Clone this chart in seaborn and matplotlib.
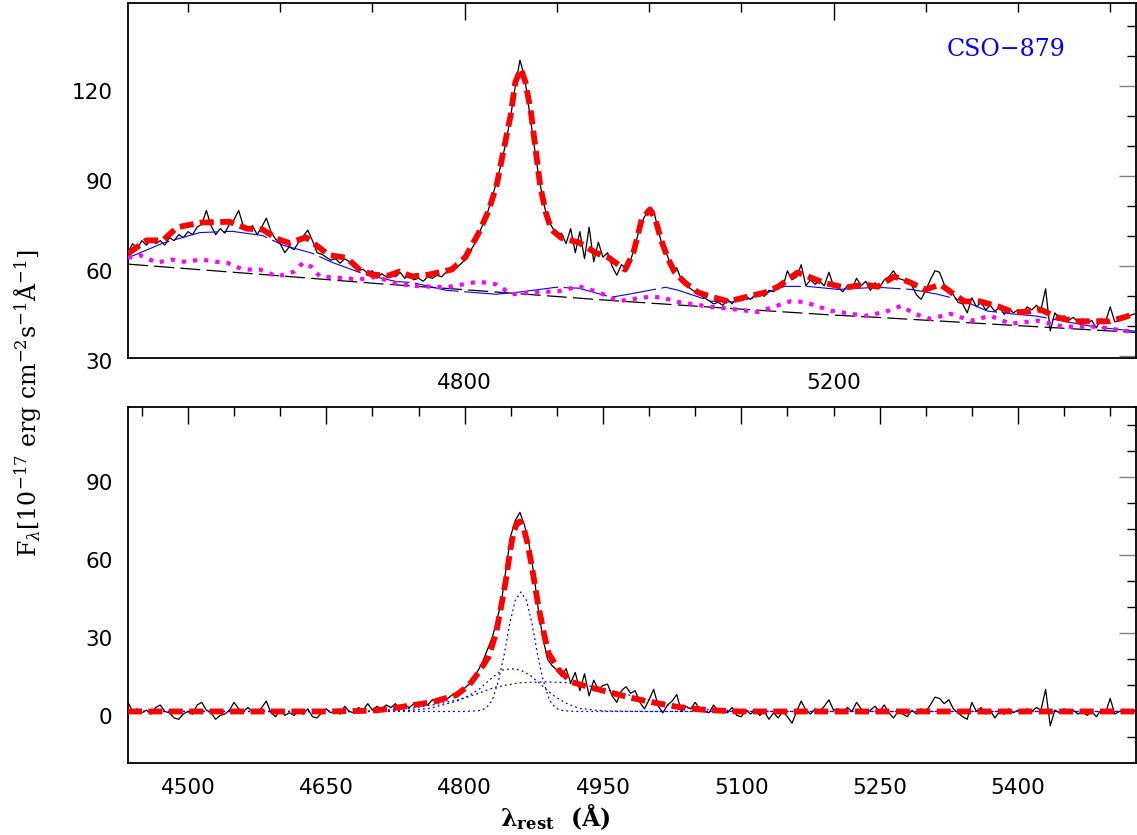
import numpy as np
import seaborn as sns
import matplotlib.pyplot as plt
import matplotlib.transforms as mtransforms
from matplotlib.ticker import MultipleLocator

sns.set_style("white")
plt.rcParams['font.family'] = ['DejaVu Sans']
plt.rcParams['mathtext.fontset'] = 'dejavuserif'
plt.rcParams['text.color'] = 'black'

# observed spectrum, sampled every 5 A from 4435 to 5530
wave = np.arange(4435, 5531, 5)

flux_top = [
    64.5, 67.5, 66.0, 68.5, 67.0, 69.0, 67.5, 68.5, 67.0, 69.5,
    68.5, 70.5, 69.5, 71.5, 70.5, 73.0, 74.0, 78.5, 73.5, 70.5,
    72.5, 71.0, 74.0, 75.5, 78.5, 73.5, 72.0, 73.5, 70.5, 73.0,
    76.0, 71.5, 69.0, 67.5, 64.5, 66.5, 65.5, 68.0, 70.0, 72.0,
    68.5, 64.5, 64.0, 63.0, 62.0, 62.5, 61.0, 62.5, 61.5, 60.0,
    58.5, 59.0, 57.5, 58.5, 56.0, 57.5, 56.5, 58.0, 56.5, 58.0,
    56.0, 57.0, 55.5, 56.0, 55.0, 56.5, 56.0, 57.0, 56.5, 58.0,
    58.5, 59.5, 60.5, 62.0, 64.5, 67.0, 70.5, 74.0, 78.0, 83.0,
    88.5, 94.5, 101.5, 110.0, 120.0, 128.5, 123.0, 112.0, 101.0, 90.5,
    82.0, 75.5, 73.0, 70.0, 71.0, 67.5, 72.5, 64.5, 71.5, 62.5,
    73.0, 61.5, 68.0, 63.0, 64.5, 60.0, 57.0, 60.5, 59.5, 62.0,
    67.0, 73.0, 76.5, 78.0, 78.5, 72.0, 66.0, 63.5, 58.5, 59.5,
    55.5, 54.0, 52.5, 51.5, 50.5, 49.5, 48.5, 47.5, 48.0, 47.0,
    49.0, 47.5, 49.5, 48.5, 50.0, 49.0, 50.5, 51.0, 50.0, 52.0,
    51.5, 54.0, 53.0, 58.5, 55.5, 56.5, 60.5, 53.5, 55.5, 54.0,
    55.0, 53.5, 58.0, 53.5, 53.0, 51.5, 53.5, 52.5, 56.0, 53.5,
    55.0, 52.0, 54.5, 53.0, 55.5, 56.5, 58.5, 56.0, 55.5, 55.0,
    53.5, 50.5, 49.0, 52.0, 55.5, 58.5, 58.0, 54.0, 52.0, 50.5,
    48.0, 47.5, 44.5, 49.5, 46.5, 48.0, 45.5, 47.0, 45.0, 46.5,
    44.0, 46.0, 44.5, 45.5, 44.5, 46.5, 45.5, 47.0, 45.5, 52.5,
    38.5, 44.5, 42.5, 43.5, 42.0, 43.0, 41.5, 42.5, 41.0, 42.0,
    39.5, 42.5, 41.5, 46.5, 41.5, 42.0, 42.5, 43.5, 44.0, 44.5,
]

flux_res = [
    3.5, 0.0, 1.0, -0.5, 0.5, -1.0, 1.5, 2.5, 0.0, -0.5,
    -2.5, -3.0, -1.0, 0.0, -1.0, 2.5, 3.5, 0.5, -0.5, -3.0,
    -1.5, -1.0, 0.5, 3.5, 1.0, 0.0, 1.5, 0.0, -0.5, 1.5,
    4.0, -0.5, -2.0, 0.5, -1.5, -0.5, -1.5, 0.0, -1.0, 1.0,
    -2.0, -2.5, -0.5, 1.0, -0.5, 0.5, -1.0, 2.0, 0.0, -0.5,
    1.5, 0.5, 3.0, 0.5, 2.0, 1.0, 2.5, 1.5, 3.0, 1.0,
    2.5, 1.5, 3.0, 2.0, 3.5, 2.5, 4.5, 3.5, 5.0, 4.5,
    6.0, 7.0, 7.5, 9.0, 10.5, 13.0, 16.0, 19.5, 24.0, 28.5,
    35.0, 42.5, 55.0, 67.5, 73.5, 76.5, 71.5, 64.0, 53.0, 39.0,
    28.0, 20.0, 17.5, 16.0, 13.5, 16.5, 11.0, 15.0, 8.0, 14.5,
    6.0, 12.0, 8.5, 10.0, 10.5, 6.0, 3.5, 8.0, 9.5, 7.0,
    8.0, 3.5, 1.0, 4.5, 8.5, 2.0, -0.5, 2.5, 4.0, 6.5,
    0.0, 2.0, 1.0, 3.5, 1.0, 0.0, -0.5, 2.5, 0.0, 1.0,
    -0.5, 1.5, -1.5, -2.0, 0.5, -1.0, 0.5, -1.5, 0.0, -3.0,
    -0.5, -2.5, 0.0, -2.0, -4.5, 0.0, 4.0, 0.5, -1.0, 1.0,
    0.0, 2.0, 4.5, 0.5, 1.0, -0.5, 1.5, 0.0, 3.5, 1.0,
    -0.5, 0.5, 2.0, 0.0, 2.5, -0.5, -2.5, 0.0, -1.0, -2.0,
    0.5, -1.0, 1.0, 0.0, 2.5, 5.5, 5.0, 3.0, 4.5, 1.0,
    -0.5, -2.0, -3.0, 3.5, 0.0, 1.5, -1.0, 0.5, -2.5, 0.0,
    -1.0, 1.0, -0.5, 0.5, -0.5, 1.0, 0.0, 1.5, 0.5, 8.5,
    -5.5, 0.5, -0.5, 1.0, -0.5, 0.5, -1.0, 0.0, -1.5, 0.0,
    -2.0, 0.5, -0.5, 5.0, -1.0, 0.0, 0.5, -0.5, 0.5, 0.0,
]

# total model, top panel
fit_top_wl = [4435, 4455, 4473, 4488, 4513, 4545, 4564, 4581, 4596, 4610,
              4628, 4639, 4653, 4672, 4686, 4700, 4718, 4729, 4743, 4761,
              4786, 4801, 4815, 4826, 4835, 4842, 4850, 4855, 4861, 4866,
              4872, 4877, 4882, 4888, 4894, 4905, 4924, 4942, 4956, 4974,
              4983, 4992, 5001, 5007, 5013, 5021, 5028, 5039, 5053, 5067,
              5086, 5107, 5126, 5140, 5161, 5172, 5190, 5212, 5234, 5248,
              5266, 5284, 5299, 5316, 5331, 5342, 5359, 5378, 5396, 5413,
              5424, 5443, 5461, 5478, 5500, 5518, 5528]
fit_top = [64.2, 68.6, 68.6, 72.9, 74.5, 74.8, 72.5, 72.2, 69.2, 67.7,
           69.6, 67.0, 63.7, 62.8, 58.9, 57.2, 56.9, 58.2, 56.6, 57.2,
           58.9, 63.1, 70.9, 78.4, 87.3, 98.2, 110.3, 121.2, 125.6, 121.2,
           111.0, 98.8, 86.6, 77.9, 72.2, 69.4, 67.9, 64.5, 62.9, 58.9,
           64.5, 75.5, 78.9, 75.5, 68.8, 62.2, 57.9, 54.5, 51.3, 49.9,
           48.3, 49.9, 51.3, 53.2, 57.9, 56.6, 54.5, 52.9, 53.9, 53.2,
           56.6, 54.5, 52.2, 53.9, 50.6, 48.3, 48.3, 46.7, 44.6, 45.0,
           45.6, 43.0, 41.7, 41.7, 41.7, 43.3, 44.6]

# continuum + broad Fe / host (thin blue)
cont_fe_wl = [4435, 4473, 4513, 4548, 4581, 4603, 4634, 4657, 4693, 4726,
              4743, 4780, 4834, 4859, 4899, 4924, 4959, 4978, 5018, 5032,
              5067, 5089, 5118, 5143, 5172, 5205, 5248, 5284, 5313, 5342,
              5367, 5396, 5421, 5450, 5486, 5528]
cont_fe = [62.8, 67.7, 71.2, 71.6, 70.2, 67.0, 64.4, 61.2, 57.2, 54.9,
           54.6, 52.0, 50.7, 51.4, 53.0, 52.7, 49.7, 50.7, 53.0, 52.0,
           48.4, 48.1, 49.7, 53.3, 53.3, 52.3, 53.0, 52.3, 50.7, 48.4,
           45.1, 44.1, 43.4, 41.7, 39.7, 38.4]

# Fe II template on top of the power law (magenta dots)
feii_wl = [4435, 4448, 4466, 4483, 4495, 4516, 4530, 4542, 4560, 4578,
           4597, 4615, 4625, 4634, 4643, 4661, 4686, 4704, 4726, 4743,
           4780, 4815, 4834, 4851, 4880, 4902, 4924, 4945, 4967, 4996,
           5013, 5032, 5067, 5089, 5118, 5154, 5169, 5197, 5234, 5256,
           5273, 5288, 5305, 5327, 5349, 5370, 5392, 5421, 5450, 5486,
           5528]
feii = [62.8, 63.7, 61.2, 62.2, 61.5, 62.2, 61.5, 61.2, 58.9, 58.9,
        56.6, 58.2, 61.2, 59.8, 56.6, 56.2, 55.6, 56.5, 54.3, 53.5,
        53.0, 54.9, 54.0, 50.7, 51.4, 51.7, 53.3, 51.4, 48.4, 49.7,
        49.7, 48.1, 46.5, 45.8, 44.8, 48.4, 48.1, 45.2, 43.5, 44.8,
        46.8, 44.2, 42.5, 44.2, 41.9, 43.5, 40.9, 41.9, 39.9, 39.9,
        38.0]

# power-law continuum
pl_wl = [4435, 4600, 4707, 4800, 4959, 5067, 5198, 5248, 5392, 5528]
pl = [60.7, 56.8, 54.2, 52.2, 48.6, 46.4, 43.8, 43.0, 40.4, 38.0]

# total model, bottom panel (H beta after subtraction)
fit_res_wl = [4435, 4650, 4700, 4718, 4765, 4791, 4805, 4815, 4826, 4834,
              4839, 4845, 4849, 4853, 4857, 4860, 4864, 4868, 4872, 4876,
              4880, 4886, 4891, 4902, 4916, 4938, 4959, 4981, 5007, 5032,
              5061, 5097, 5528]
fit_res = [0.0, 0.0, 0.3, 1.0, 3.6, 6.3, 10.2, 14.9, 21.0, 30.0,
           39.2, 51.0, 61.0, 69.0, 72.5, 73.0, 70.5, 65.0, 57.5, 49.0,
           40.5, 30.0, 22.4, 16.0, 11.3, 9.1, 7.2, 5.2, 3.3, 1.7,
           0.6, 0.0, 0.0]

# individual H beta components (blue dots)
hb_narrow_wl = [4435, 4800, 4815, 4823, 4830, 4837, 4843, 4849, 4855, 4861,
                4867, 4873, 4879, 4885, 4892, 4899, 4907, 4920, 5528]
hb_narrow = [0, 0, 0.3, 1.2, 4.3, 12.2, 22.0, 34.0, 42.7, 45.9,
             42.7, 34.0, 22.0, 12.2, 4.3, 1.2, 0.3, 0, 0]
hb_mid_wl = [4435, 4700, 4740, 4762, 4791, 4805, 4816, 4825, 4834, 4842,
             4851, 4860, 4870, 4879, 4888, 4898, 4910, 4924, 4950, 5000, 5528]
hb_mid = [0, 0, 0.4, 1.2, 3.9, 6.2, 8.6, 11.5, 14.2, 16.0,
          16.4, 16.0, 14.2, 11.5, 8.6, 5.7, 3.2, 1.2, 0.2, 0, 0]
hb_broad_wl = [4435, 4680, 4700, 4740, 4770, 4797, 4815, 4834, 4859, 4885,
               4910, 4942, 4967, 4996, 5024, 5050, 5090, 5150, 5528]
hb_broad = [0, 0, 0.2, 1.1, 2.8, 4.8, 7.0, 9.4, 11.0, 11.4,
            11.1, 9.4, 7.2, 4.8, 2.2, 1.0, 0.3, 0, 0]

W, H = 1137, 835
fig = plt.figure(figsize=(W / 100, H / 100), dpi=100)
ax1 = fig.add_axes([128 / W, 1 - 358 / H, 1008 / W, 355 / H])
ax2 = fig.add_axes([128 / W, 1 - 763 / H, 1008 / W, 356 / H])

red_ls = (0, (2.4, 1.1))

# top panel
sns.lineplot(x=wave, y=flux_top, ax=ax1, color='black', lw=0.9, zorder=2)
sns.lineplot(x=pl_wl, y=pl, ax=ax1, color='black', lw=0.9,
             linestyle=(0, (16, 5)), zorder=3)
sns.lineplot(x=cont_fe_wl, y=cont_fe, ax=ax1, color='blue', lw=0.8,
             linestyle=(0, (40, 5)), zorder=3)
sns.lineplot(x=feii_wl, y=feii, ax=ax1, color='magenta', lw=3.0,
             linestyle=(0, (1.0, 1.7)), zorder=4)
sns.lineplot(x=fit_top_wl, y=fit_top, ax=ax1, color='red', lw=4.2,
             linestyle=red_ls, zorder=5)

# bottom panel
sns.lineplot(x=wave, y=flux_res, ax=ax2, color='black', lw=0.9, zorder=2)
for wl, comp in [(hb_narrow_wl, hb_narrow), (hb_mid_wl, hb_mid),
                 (hb_broad_wl, hb_broad)]:
    sns.lineplot(x=wl, y=comp, ax=ax2, color='blue', lw=0.9,
                 linestyle=(0, (1.5, 2.5)), zorder=3)
sns.lineplot(x=fit_res_wl, y=fit_res, ax=ax2, color='red', lw=4.2,
             linestyle=red_ls, zorder=5)

ax1.set_xlim(4435, 5528)
ax2.set_xlim(4435, 5528)
ax1.set_ylim(29.5, 147.5)
ax2.set_ylim(-19.8, 117)

ax1.xaxis.set_major_locator(MultipleLocator(400))
ax1.xaxis.set_minor_locator(MultipleLocator(100))
ax2.xaxis.set_major_locator(MultipleLocator(150))
ax2.xaxis.set_minor_locator(MultipleLocator(50))
for ax in (ax1, ax2):
    ax.yaxis.set_major_locator(MultipleLocator(30))
    ax.yaxis.set_minor_locator(MultipleLocator(10))
    ax.set_xlabel('')
    ax.set_ylabel('')
    for sp in ax.spines.values():
        sp.set_linewidth(1.3)
        sp.set_color('black')
    ax.tick_params(which='both', direction='in', top=True, right=True,
                   labelsize=15.5, width=1.0, color='black',
                   labelcolor='black')
    ax.tick_params(which='major', length=12, pad=11)
    ax.tick_params(which='minor', length=6.5)
    ax.tick_params(axis='y', which='major', color='0.5', pad=11)
    # labels sit a little below their ticks, as in the original
    offset = mtransforms.ScaledTranslation(0, -5 / 100, fig.dpi_scale_trans)
    for lab in ax.get_yticklabels():
        lab.set_transform(lab.get_transform() + offset)

ax1.text(0.871, 0.868, 'CSO\u2212879', transform=ax1.transAxes, color='blue',
         fontsize=17, family='DejaVu Serif', ha='center', va='center')

fig.text(28 / W, 1 - 403 / H,
         r'F$_\lambda$[10$^{-17}$ erg cm$^{-2}$s$^{-1}$Å$^{-1}$]',
         rotation=90, ha='center', va='center', fontsize=17,
         family='DejaVu Serif', color='black')
fig.text(555 / W, 1 - 817 / H, r'λ$_{\mathbf{rest}}$  (Å)',
         ha='center', va='center', fontsize=17, fontweight='bold',
         family='DejaVu Serif', color='black')

fig.savefig('out.png', dpi=100)
